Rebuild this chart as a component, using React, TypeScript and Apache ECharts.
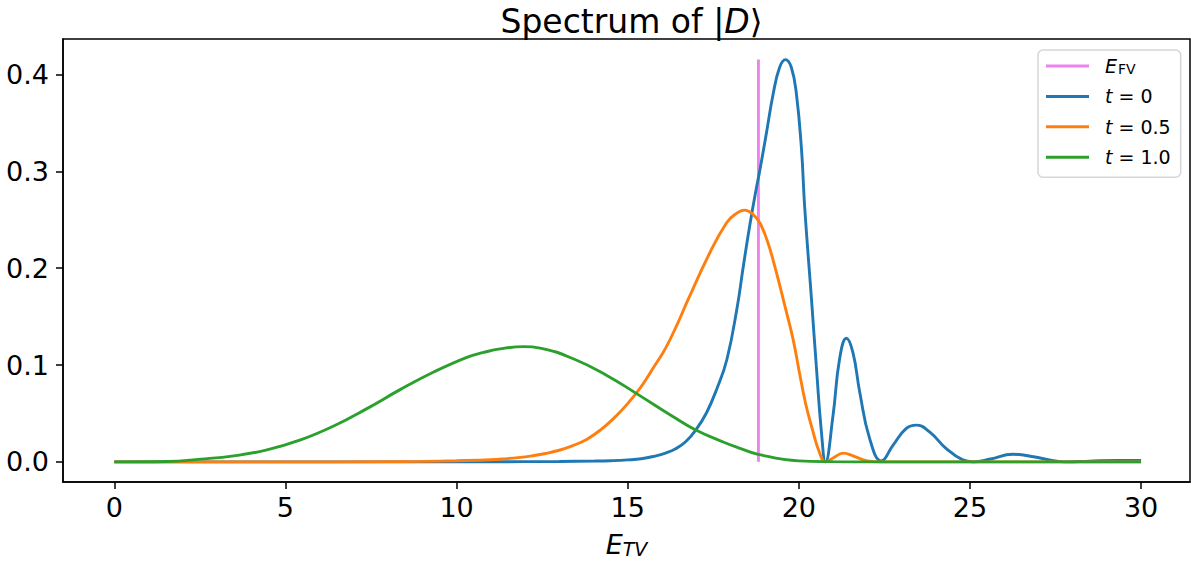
import React, { useEffect, useRef } from "react";
import * as echarts from "echarts";

// E_FV vertical marker
const efvX = 18.82;
const efvRange = [0, 0.4155];

// t = 0 (blue)
const blueX = [0, 5, 10, 12, 13, 14.0, 14.5, 15.0, 15.4, 15.8, 16.1, 16.4, 16.7, 17.0, 17.3, 17.6, 17.9, 18.2, 18.37, 18.57, 18.76, 18.86, 19.05, 19.25, 19.44, 19.61, 19.78, 19.93, 20.08, 20.17, 20.37, 20.51, 20.66, 20.78, 21.0, 21.19, 21.39, 21.58, 21.78, 22.07, 22.41, 22.75, 23.14, 23.43, 23.82, 24.3, 24.79, 25.1, 25.6, 26.25, 26.9, 27.4, 27.8, 28.5, 29.3, 30];
const blueY = [0, 0, 0, 0.0002, 0.0004, 0.0008, 0.0012, 0.002, 0.0032, 0.006, 0.009, 0.0135, 0.021, 0.0335, 0.0505, 0.075, 0.106, 0.16, 0.2, 0.245, 0.283, 0.301, 0.339, 0.38, 0.4076, 0.4155, 0.4076, 0.38, 0.322, 0.264, 0.168, 0.0996, 0.031, 0.0, 0.048, 0.106, 0.1277, 0.113, 0.072, 0.024, 0.001, 0.017, 0.0346, 0.038, 0.031, 0.014, 0.002, 0.0, 0.003, 0.0079, 0.005, 0.0015, 0.0, 0.0008, 0.0015, 0.0015];

// t = 0.5 (orange)
const orangeX = [0, 5, 8, 9, 10, 11.0, 11.4, 11.8, 12.2, 12.6, 13.0, 13.4, 13.8, 14.2, 14.6, 15.0, 15.4, 15.8, 16.1, 16.43, 16.77, 17.4, 17.89, 18.15, 18.42, 18.65, 18.86, 19.1, 19.35, 19.6, 19.83, 20.03, 20.2, 20.4, 20.6, 20.78, 21.0, 21.3, 21.6, 22.0, 22.4, 23, 25, 30];
const orangeY = [0, 0, 0.0002, 0.0005, 0.0012, 0.0022, 0.0031, 0.0044, 0.0062, 0.0086, 0.012, 0.0168, 0.0232, 0.0328, 0.0452, 0.0602, 0.078, 0.1, 0.117, 0.1407, 0.168, 0.216, 0.247, 0.256, 0.26, 0.256, 0.247, 0.226, 0.195, 0.16, 0.127, 0.09, 0.06, 0.033, 0.01, 0.0, 0.004, 0.009, 0.006, 0.001, 0.0, 0, 0, 0];

// t = 1.0 (green)
const greenX = [0, 1.55, 2.52, 3.49, 4.46, 5.44, 6.41, 7.38, 8.35, 9.33, 10.3, 10.79, 11.27, 11.95, 12.44, 13.41, 14.39, 15.26, 16.33, 16.96, 17.79, 18.28, 18.81, 20.0, 21, 22, 25, 30];
const greenY = [0, 0.0004, 0.0028, 0.0062, 0.0123, 0.0226, 0.037, 0.055, 0.0746, 0.0928, 0.108, 0.113, 0.1167, 0.119, 0.1175, 0.1065, 0.0893, 0.0705, 0.0466, 0.0335, 0.0205, 0.014, 0.0078, 0.001, 0.0002, 0, 0, 0];

const xTicks = [0, 5, 10, 15, 20, 25, 30];
const yTicks = [0, 0.1, 0.2, 0.3, 0.4];
const seriesNames = ["E_FV", "t = 0", "t = 0.5", "t = 1.0"];
const legendLabels: Record<string, string> = {
  "E_FV": "{i|E}{sub|FV}",
  "t = 0": "{i|t}{n| = 0}",
  "t = 0.5": "{i|t}{n| = 0.5}",
  "t = 1.0": "{i|t}{n| = 1.0}",
};

const zip = (xs: number[], ys: number[]) => xs.map((x, i) => [x, ys[i]]);

const FONT = "DejaVu Sans";

export default function App() {
  const ref = useRef<HTMLDivElement>(null);
  useEffect(() => {
    if (!ref.current) return;
    const chart = echarts.init(ref.current, undefined, { renderer: "svg" });
    const lw = 2.9;
    const sm = 0.45;
    chart.setOption({
      animation: false,
      backgroundColor: "#fff",
      title: {
        text: "{n|Spectrum of |}{i|D}{n|⟩}",
        left: 626.5,
        textAlign: "center",
        top: 0,
        textStyle: {
          fontWeight: "normal",
          rich: {
            n: { fontSize: 33, fontFamily: FONT, fontWeight: "normal", color: "#000" },
            i: { fontSize: 33, fontFamily: FONT, fontWeight: "normal", fontStyle: "italic", color: "#000" },
          },
        },
      },
      grid: { left: 63, right: 1, top: 39, bottom: 80, show: true, borderColor: "#000", borderWidth: 1.5, backgroundColor: "transparent" },
      legend: {
        orient: "vertical",
        left: 1038,
        top: 50,
        padding: [6, 10, 10, 8],
        backgroundColor: "#fff",
        borderColor: "#d6d6d6",
        borderWidth: 1.5,
        borderRadius: 5,
        itemWidth: 43,
        itemHeight: 3,
        itemGap: 10.4,
        icon: "rect",
        data: seriesNames,
        formatter: (name: string) => legendLabels[name],
        textStyle: {
          fontSize: 19,
          fontFamily: FONT,
          color: "#000",
          padding: [0, 0, 0, 11],
          lineHeight: 20,
          rich: {
            i: { fontSize: 19, fontFamily: FONT, fontStyle: "italic", color: "#000" },
            n: { fontSize: 19, fontFamily: FONT, color: "#000" },
            sub: { fontSize: 14, fontFamily: FONT, color: "#000", verticalAlign: "bottom", padding: [6, 0, 0, 1] },
          },
        },
      },
      xAxis: {
        type: "value",
        min: -1.5,
        max: 31.43,
        name: "{e|E}{s|TV}",
        nameLocation: "middle",
        nameGap: 49,
        nameTextStyle: {
          rich: {
            e: { fontSize: 27, fontFamily: FONT, fontStyle: "italic", color: "#000" },
            s: { fontSize: 19, fontFamily: FONT, fontStyle: "italic", color: "#000", verticalAlign: "bottom", padding: [8, 0, 0, 0] },
          },
        },
        axisLine: { show: true, onZero: false, lineStyle: { color: "#000", width: 1.5 } },
        axisTick: { show: true, customValues: xTicks, length: 7, lineStyle: { color: "#000", width: 1.5 } },
        axisLabel: { customValues: xTicks, fontSize: 27, fontFamily: FONT, color: "#000", margin: 12 },
        splitLine: { show: false },
      },
      yAxis: {
        type: "value",
        min: -0.0208,
        max: 0.4368,
        axisLine: { show: true, onZero: false, lineStyle: { color: "#000", width: 1.5 } },
        axisTick: { show: true, customValues: yTicks, length: 7, lineStyle: { color: "#000", width: 1.5 } },
        axisLabel: { customValues: yTicks, fontSize: 27, fontFamily: FONT, color: "#000", margin: 14, formatter: (v: number) => v.toFixed(1) },
        splitLine: { show: false },
      },
      series: [
        {
          name: "E_FV", type: "line", data: [[efvX, efvRange[0]], [efvX, efvRange[1]]],
          showSymbol: false, symbol: "none", color: "#ee82ee", lineStyle: { width: lw, color: "#ee82ee" },
        },
        {
          name: "t = 0", type: "line", data: zip(blueX, blueY), smooth: sm,
          showSymbol: false, symbol: "none", color: "#1f77b4", lineStyle: { width: lw, color: "#1f77b4" },
        },
        {
          name: "t = 0.5", type: "line", data: zip(orangeX, orangeY), smooth: sm,
          showSymbol: false, symbol: "none", color: "#ff7f0e", lineStyle: { width: lw, color: "#ff7f0e" },
        },
        {
          name: "t = 1.0", type: "line", data: zip(greenX, greenY), smooth: sm,
          showSymbol: false, symbol: "none", color: "#2ca02c", lineStyle: { width: lw, color: "#2ca02c" },
        },
      ],
    });
    return () => chart.dispose();
  }, []);
  return <div ref={ref} style={{ position: "fixed", left: 0, top: 0, width: 1191, height: 563 }} />;
}
